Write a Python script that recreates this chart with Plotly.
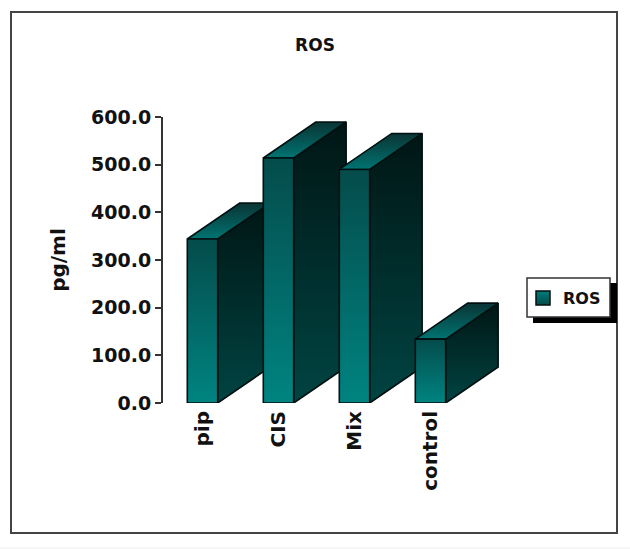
"""ROS levels by treatment, drawn as extruded 3D-style columns."""

import plotly.graph_objects as go

CATEGORIES = ["pip", "CIS", "Mix", "control"]
ROS_VALUES = [344, 514, 490, 134]
Y_TICKS = [0, 100, 200, 300, 400, 500, 600]

WIDTH, HEIGHT = 630, 549
PLOT_LEFT, PLOT_RIGHT, PLOT_TOP, PLOT_BOTTOM = 163, 520, 117, 403
FONT = "DejaVu Sans"
TEXT = "#111"

# one x unit is one category step (76 px), extrusion expressed in data units
FIRST_BAR_PX = 202.5
BAR_WIDTH = 0.4
DEPTH_X = 0.69
DEPTH_Y = 75.5


def gradient(bottom, top):
    return dict(type="vertical", colorscale=[[0, bottom], [1, top]])


def face(xs, ys, bottom, top):
    return go.Scatter(
        x=xs + xs[:1],
        y=ys + ys[:1],
        mode="lines",
        fill="toself",
        fillgradient=gradient(bottom, top),
        line=dict(color="#001010", width=1.6),
        hoverinfo="skip",
        showlegend=False,
    )


fig = go.Figure()
for i, value in enumerate(ROS_VALUES):
    left = i - BAR_WIDTH / 2
    right = i + BAR_WIDTH / 2
    # side, then top, then front so each bar overlaps the previous one
    fig.add_trace(face(
        [right, right + DEPTH_X, right + DEPTH_X, right],
        [0, DEPTH_Y, value + DEPTH_Y, value],
        "#004442", "#001615",
    ))
    fig.add_trace(face(
        [left, right, right + DEPTH_X, left + DEPTH_X],
        [value, value, value + DEPTH_Y, value + DEPTH_Y],
        "#007472", "#0a3434",
    ))
    fig.add_trace(face(
        [left, right, right, left],
        [0, 0, value, value],
        "#008481", "#044c4b",
    ))

# legend entry only, the fill traces give a wide strip instead of a square swatch
fig.add_trace(go.Scatter(
    x=[None],
    y=[None],
    mode="markers",
    name="ROS",
    marker=dict(
        symbol="square",
        size=14,
        color="#007c79",
        gradient=dict(type="vertical", color="#044c4b"),
        line=dict(color="#001010", width=1.5),
    ),
))


def px_x(x):
    return (x - PLOT_LEFT) / (PLOT_RIGHT - PLOT_LEFT)


def px_y(y):
    return (PLOT_BOTTOM - y) / (PLOT_BOTTOM - PLOT_TOP)


def paper_rect(x0, y0, x1, y1, **kwargs):
    return dict(
        type="rect", xref="paper", yref="paper", layer="below",
        x0=px_x(x0), x1=px_x(x1), y0=px_y(y0), y1=px_y(y1), **kwargs,
    )


fig.update_layout(
    width=WIDTH,
    height=HEIGHT,
    autosize=False,
    paper_bgcolor="white",
    plot_bgcolor="rgba(0,0,0,0)",
    margin=dict(
        l=PLOT_LEFT, r=WIDTH - PLOT_RIGHT, t=PLOT_TOP,
        b=HEIGHT - PLOT_BOTTOM, pad=0, autoexpand=False,
    ),
    title=dict(
        text="<b>ROS</b>", x=315 / WIDTH, xref="container", xanchor="center",
        y=1 - 45 / HEIGHT, yanchor="middle",
        font=dict(family=FONT, size=17, color=TEXT),
    ),
    font=dict(family=FONT, color=TEXT),
    legend=dict(
        xref="container", yref="container", x=523 / WIDTH, y=1 - 298 / HEIGHT,
        xanchor="left", yanchor="middle",
        bgcolor="rgba(0,0,0,0)", borderwidth=0,
        font=dict(family=FONT, size=16, color=TEXT, weight="bold"),
    ),
    shapes=[
        paper_rect(0, 547, 630, 549, line=dict(width=0), fillcolor="#f6f6f6"),
        paper_rect(11, 12, 617, 533, line=dict(color="#444", width=2), fillcolor="white"),
        paper_rect(533, 283, 617, 323, line=dict(width=0), fillcolor="black"),
        paper_rect(527, 278, 610, 317, line=dict(color="#333", width=1.5), fillcolor="white"),
    ],
)
fig.update_xaxes(
    range=[(PLOT_LEFT - FIRST_BAR_PX) / 76, (PLOT_RIGHT - FIRST_BAR_PX) / 76],
    tickmode="array",
    tickvals=list(range(len(CATEGORIES))),
    ticktext=[f"<b>{c}</b>" for c in CATEGORIES],
    tickangle=-90,
    tickfont=dict(family=FONT, size=20, color=TEXT),
    ticklabelstandoff=3,
    showgrid=False,
    zeroline=False,
    showline=False,
    ticks="",
)
fig.update_yaxes(
    range=[0, 600],
    tickmode="array",
    tickvals=Y_TICKS,
    ticktext=[f"<b>{v:.1f}</b>" for v in Y_TICKS],
    tickfont=dict(family=FONT, size=19, color=TEXT),
    title=dict(text="<b>pg/ml</b>", font=dict(family=FONT, size=20, color=TEXT), standoff=20),
    showgrid=False,
    zeroline=False,
    showline=True,
    linecolor="#333",
    linewidth=2,
    ticks="outside",
    ticklen=6,
    tickwidth=2,
    tickcolor="#333",
)

# the page's default body margin would push the figure 8 px off
fig.write_html(
    "out.html",
    config=dict(displayModeBar=False),
    post_script="document.body.style.margin='0';document.body.style.overflow='hidden';",
)
